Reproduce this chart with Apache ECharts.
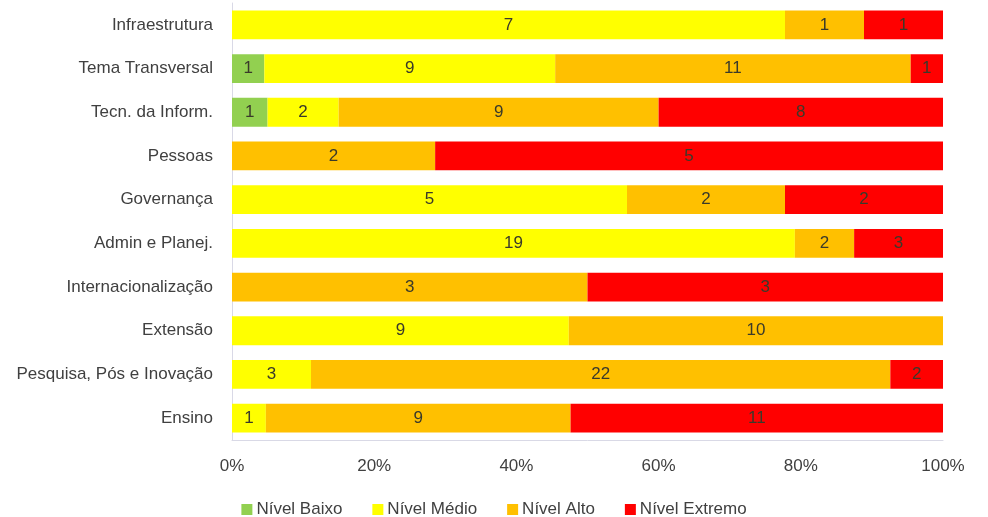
<!DOCTYPE html>
<html>
<head>
  <meta charset="UTF-8">
  <title>Níveis de risco por área</title>
  <script src="https://cdn.jsdelivr.net/npm/echarts@6/dist/echarts.min.js"></script>
  <style>
    html, body { margin: 0; padding: 0; background: #fff; }
    #chart { width: 988px; height: 517px; }
  </style>
</head>
<body>
<div id="chart"></div>
<script>
  // categorias de cima para baixo
  var categories = ['Infraestrutura', 'Tema Transversal', 'Tecn. da Inform.', 'Pessoas', 'Governança',
    'Admin e Planej.', 'Internacionalização', 'Extensão', 'Pesquisa, Pós e Inovação', 'Ensino'];
  // quantidade de riscos por nível
  var baixo   = [0, 1, 1, 0, 0, 0, 0, 0, 0, 0];
  var medio   = [7, 9, 2, 0, 5, 19, 0, 9, 3, 1];
  var alto    = [1, 11, 9, 2, 2, 2, 3, 10, 22, 9];
  var extremo = [1, 1, 8, 5, 2, 3, 3, 0, 2, 11];
  var xTicks = ['0%', '20%', '40%', '60%', '80%', '100%'];

  var levels = [
    { name: 'Nível Baixo', data: baixo, color: '#92D050' },
    { name: 'Nível Médio', data: medio, color: '#FFFF00' },
    { name: 'Nível Alto', data: alto, color: '#FFC000' },
    { name: 'Nível Extremo', data: extremo, color: '#FF0000' }
  ];

  var totals = categories.map(function (c, i) {
    return baixo[i] + medio[i] + alto[i] + extremo[i];
  });

  var font = 'Liberation Sans, Arial, sans-serif';

  var series = levels.map(function (lv) {
    return {
      name: lv.name,
      type: 'bar',
      stack: 'total',
      barCategoryGap: '34%',
      itemStyle: { color: lv.color },
      label: {
        show: true,
        position: 'inside',
        color: '#3A3A2A',
        fontFamily: font,
        fontSize: 17,
        formatter: function (p) { return p.data.count > 0 ? p.data.count : ''; }
      },
      emphasis: { disabled: true },
      data: lv.data.map(function (v, i) {
        return { value: v / totals[i] * 100, count: v };
      })
    };
  });

  var chart = echarts.init(document.getElementById('chart'));
  chart.setOption({
    animation: false,
    grid: { left: 232, right: 45, top: 3, height: 437 },
    legend: {
      top: 496,
      left: 'center',
      itemWidth: 11,
      itemHeight: 11,
      itemGap: 30,
      icon: 'rect',
      textStyle: { color: '#404040', fontFamily: font, fontSize: 17, padding: [0, 0, 0, -1] },
      data: levels.map(function (lv) { return lv.name; })
    },
    xAxis: {
      type: 'value',
      min: 0,
      max: 100,
      interval: 20,
      axisLine: { show: true, lineStyle: { color: '#D9D9E6' } },
      axisTick: { show: false },
      splitLine: { show: false },
      axisLabel: {
        color: '#404040',
        fontFamily: font,
        fontSize: 17,
        margin: 18,
        formatter: function (v) { return xTicks[v / 20]; }
      }
    },
    yAxis: {
      type: 'category',
      inverse: true,
      data: categories,
      axisLine: { show: true, lineStyle: { color: '#D9D9E6' } },
      axisTick: { show: false },
      axisLabel: { color: '#404040', fontFamily: font, fontSize: 17, margin: 19 }
    },
    series: series
  });
</script>
</body>
</html>
